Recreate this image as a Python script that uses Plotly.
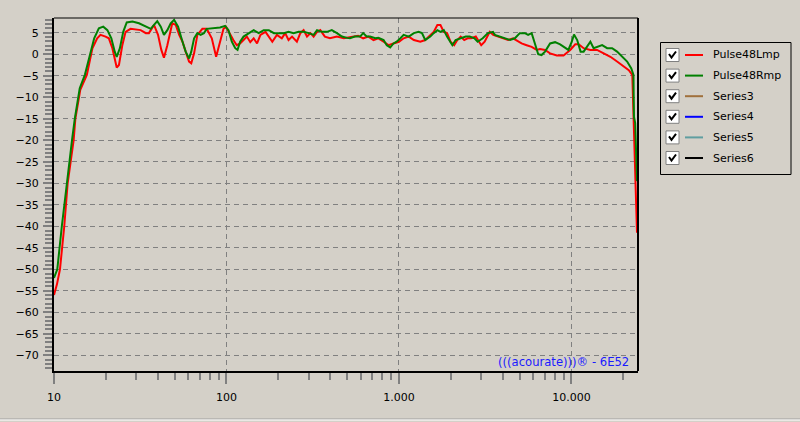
import plotly.graph_objects as go

# ---------------- data ----------------
freq_L = [10, 10.4, 10.83, 11.47, 12.0, 12.5, 13.0, 13.3, 13.9, 14.2, 15.5, 16.7, 17.8, 18.6, 19.9,
          20.8, 21.8, 23.1, 23.8, 24.9, 26.0, 27.8, 31.8, 34.1, 35.5, 38.0, 40.1, 41.9, 43.4, 45.4,
          48.5, 50.8, 53.2, 55.6, 58.0, 60.7, 62.5, 64.9, 67.8, 72.5, 76.8, 82.2, 87.1, 91.8, 96.1,
          99.4, 103.9, 109.6, 114.7, 120, 125.6, 131.3, 137.4, 143.8, 150.4, 157.4, 168.4, 176.2,
          184.4, 196, 209.3, 219, 229, 240, 256, 268, 280, 293, 307, 320, 335, 350, 372, 398, 437,
          479, 530, 580, 620, 665, 712, 760, 815, 870, 930, 1000, 1065, 1140, 1220, 1330, 1420,
          1520, 1590, 1670, 1740, 1820, 1900, 1990, 2090, 2180, 2280, 2390, 2500, 2620, 2790, 3000,
          3140, 3360, 3520, 3760, 4010, 4290, 4590, 4800, 5140, 5500, 5880, 6290, 6570, 7030, 7520,
          8230, 9000, 9840, 10530, 11010, 11770, 12880, 14080, 15390, 16830, 18390, 20110, 21510,
          22540, 22700, 22800, 23100, 23300, 23800, 24000]
db_L = [-56, -53.5, -50, -40, -30, -25, -20, -15, -10, -8.3, -4.8, 1.4, 3.7, 4.5, 4.1,
        3.7, 1.4, -3.1, -2.5, 2.1, 5.2, 5.9, 5.6, 4.9, 4.9, 6.8, 4.5, 1.0, -0.8, 2.1,
        7.2, 6.8, 4.5, 2.9, 0.6, -1.7, -2.1, 0.2, 4.5, 5.9, 5.9, 3.7, -0.6, 2.9, 5.9,
        6.4, 4.9, 3.3, 2.1, 2.5, 3.3, 4.1, 2.8, 3.7, 2.5, 4.5, 5.2, 4.1,
        2.9, 4.5, 3.7, 4.9, 3.3, 4.1, 2.9, 4.9, 5.6, 4.1, 4.9, 4.1, 5.2, 5.6, 4.1, 3.7, 4.1,
        3.7, 4.1, 4.3, 3.7, 4.1, 3.3, 3.7, 2.9, 2.1, 2.5, 2.9, 3.7, 4.1, 3.3, 2.9, 3.3,
        4.5, 5.2, 6.8, 6.8, 5.2, 4.9, 2.9, 2.1, 3.3, 4.1, 3.3, 3.7, 3.7, 4.1, 2.1,
        2.9, 5.2, 4.5, 4.1, 3.7, 3.3, 3.7, 3.3, 2.5, 2.1, 1.7, 1.0, 1.2, 1.0, 0.2,
        -0.3, -0.3, 1.0, 2.3, 2.3, 1.4, 1.0, 1.0, 0.2, -0.6, -1.7, -2.9, -3.7,
        -4.8, -9, -12.5, -15, -22, -35, -41.5]

freq_R = [10, 10.45, 11.1, 11.47, 11.85, 12.2, 12.72, 13.2, 13.8, 14.1, 15.1, 16.0, 17.1, 18.2, 19.3,
          20.4, 21.5, 22.5, 23.1, 24.1, 25.2, 26.4, 28.5, 31.1, 34.1, 36.4, 38.0, 39.7, 41.6, 43.4,
          45.4, 47.5, 49.7, 52.4, 55.6, 58.0, 60.7, 62.5, 64.9, 67.8, 70.8, 74.0, 76.8, 84.2, 91.8,
          98.2, 102.7, 107.4, 112.4, 115.9, 120, 125.6, 134.2, 143.8, 153.8, 164.3, 176, 188.4,
          201.3, 215, 229, 245, 262, 280, 300, 320, 335, 357, 382, 408, 437, 467, 500, 520, 555,
          595, 620, 650, 680, 730, 760, 815, 850, 890, 930, 970, 1020, 1065, 1140, 1220, 1300,
          1360, 1420, 1520, 1590, 1670, 1740, 1820, 1900, 2040, 2130, 2280, 2440, 2570, 2740, 2860,
          3060, 3280, 3510, 3600, 3850, 4120, 4410, 4700, 5020, 5370, 5610, 5880, 6140, 6420, 6710,
          7030, 7520, 8040, 8600, 9200, 9600, 10050, 10350, 10800, 11300, 11770, 12300, 12880,
          13450, 14080, 15070, 16110, 17220, 18390, 19680, 21040, 22240, 22900, 22950, 23050,
          23430, 23700, 24000]
db_R = [-52, -50, -40, -35, -30, -25, -20, -15, -10, -7.9, -4.8, -1.0, 3.7, 6.0, 6.4,
        5.6, 3.7, 0.6, -0.6, 1.4, 5.2, 7.4, 7.6, 7.2, 6.4, 5.9, 6.8, 7.7, 6.4, 4.5,
        5.6, 7.2, 8.0, 6.4, 2.9, 0.6, -1.0, 0.6, 3.7, 4.9, 4.5, 4.9, 5.9, 6.0, 6.2,
        6.6, 5.6, 2.9, 1.4, 1.0, 2.9, 4.1, 4.9, 5.6, 4.9, 5.6, 5.6, 4.9,
        4.9, 4.9, 5.2, 4.9, 5.2, 5.2, 4.9, 4.5, 5.6, 5.2, 5.2, 5.6, 4.9, 4.1, 3.8, 3.7, 4.1,
        4.1, 4.9, 4.1, 4.1, 3.7, 3.8, 3.3, 2.1, 1.6, 2.5, 2.9, 3.7, 4.5, 4.1, 4.9, 5.2,
        4.9, 3.3, 4.1, 4.9, 5.6, 5.2, 5.6, 4.1, 2.1, 3.3, 3.7, 4.1, 4.1, 3.7, 2.9,
        3.7, 4.9, 5.2, 4.5, 4.1, 3.8, 3.3, 3.7, 4.9, 4.9, 4.5, 4.9, 2.5, 0, -0.2,
        0.6, 2.5, 2.8, 2.3, 1.4, 1.0, 2.9, 4.6, 3.3, 0.6, 0.6, 1.7, 2.9,
        1.4, 1.7, 2.1, 1.4, 1.4, 0.6, -0.6, -1.7, -3.3, -4.8, -9, -14.6,
        -16, -24, -29.5]

series_names = ["Pulse48Lmp", "Pulse48Rmp", "Series3", "Series4", "Series5", "Series6"]
series_colors = ["#ff0000", "#008000", "#a0703c", "#0000ff", "#5f9ea0", "#000000"]

x_tickvals = [10, 100, 1000, 10000]
x_ticktext = ["10", "100", "1.000", "10.000"]
x_minor = [m * d for d in (10, 100, 1000) for m in range(2, 10)] + [20000]
y_tickvals = list(range(-70, 10, 5))

watermark = "(((acourate)))® - 6E52"

# ---------------- layout geometry ----------------
W, H = 800, 422
L, R, T, B = 54, 162, 18, 51
PW, PH = W - L - R, H - T - B
BG = "#d4d0c8"
FONT = "DejaVu Sans"


def px(x):
    return (x - L) / PW


def py(y):
    return (H - B - y) / PH


fig = go.Figure()
fig.add_trace(go.Scatter(x=freq_L, y=db_L, mode="lines", name=series_names[0],
                         line=dict(color=series_colors[0], width=2), showlegend=False))
fig.add_trace(go.Scatter(x=freq_R, y=db_R, mode="lines", name=series_names[1],
                         line=dict(color=series_colors[1], width=2), showlegend=False))

shapes = []
annotations = []

# frame top / right
shapes.append(dict(type="line", xref="paper", yref="paper", x0=0, x1=1, y0=1, y1=1,
                   line=dict(color="black", width=1)))
shapes.append(dict(type="line", xref="paper", yref="paper", x0=1, x1=1, y0=0, y1=1,
                   line=dict(color="black", width=2)))

# legend box
shapes.append(dict(type="rect", xref="paper", yref="paper", x0=px(660.5), x1=px(791),
                   y0=py(174.5), y1=py(42.5), line=dict(color="black", width=1)))
row0, dy = 55, 20.6
for i, (nm, col) in enumerate(zip(series_names, series_colors)):
    yc = row0 + i * dy
    shapes.append(dict(type="rect", xref="paper", yref="paper", x0=px(666), x1=px(679),
                       y0=py(yc + 6.5), y1=py(yc - 6.5), fillcolor="white",
                       line=dict(color="#808080", width=1)))
    path = "M {:.5f} {:.5f} L {:.5f} {:.5f} L {:.5f} {:.5f}".format(
        px(669), py(yc - 1), px(671.5), py(yc + 2.5), px(676), py(yc - 3.5))
    shapes.append(dict(type="path", xref="paper", yref="paper", path=path,
                       line=dict(color="black", width=2)))
    shapes.append(dict(type="line", xref="paper", yref="paper", x0=px(685), x1=px(703),
                       y0=py(yc), y1=py(yc), line=dict(color=col, width=2)))
    annotations.append(dict(text=nm, xref="paper", yref="paper", x=px(711), y=py(yc),
                            xanchor="left", yanchor="middle", showarrow=False,
                            font=dict(family=FONT, size=11, color="black")))

# watermark
annotations.append(dict(text=watermark, xref="paper", yref="paper", x=px(631), y=py(362),
                        xanchor="right", yanchor="middle", showarrow=False,
                        font=dict(family=FONT, size=11.6, color="#1a1aff")))

# bottom panel edge
shapes.append(dict(type="line", xref="paper", yref="paper", x0=px(0), x1=px(800),
                   y0=py(419), y1=py(419), line=dict(color="#a0a0a0", width=1)))
shapes.append(dict(type="line", xref="paper", yref="paper", x0=px(0), x1=px(800),
                   y0=py(420), y1=py(420), line=dict(color="#ffffff", width=1)))

fig.update_layout(
    width=W, height=H,
    margin=dict(l=L, r=R, t=T, b=B, pad=0),
    paper_bgcolor=BG, plot_bgcolor=BG,
    font=dict(family=FONT, size=11, color="black"),
    showlegend=False,
    shapes=shapes, annotations=annotations,
    xaxis=dict(type="log", range=[1, 4.386], tickmode="array",
               tickvals=x_tickvals, ticktext=x_ticktext,
               ticks="outside", ticklen=11, tickwidth=2, tickcolor="#808080",
               ticklabelstandoff=4,
               showline=True, linecolor="black", linewidth=2,
               showgrid=True, gridcolor="#808080", gridwidth=1, griddash="5px,4px",
               zeroline=False,
               minor=dict(tickmode="array", tickvals=x_minor, ticks="outside", ticklen=7,
                          tickwidth=2, tickcolor="#808080", showgrid=False),
               tickfont=dict(family=FONT, size=11, color="black")),
    yaxis=dict(range=[-73.65, 8.42], tickmode="array", tickvals=y_tickvals,
               ticks="outside", ticklen=9, tickwidth=2, tickcolor="#808080",
               ticklabelstandoff=2,
               showline=True, linecolor="black", linewidth=2,
               showgrid=True, gridcolor="#808080", gridwidth=1, griddash="5px,4px",
               zeroline=False,
               minor=dict(dtick=1, ticks="outside", ticklen=7, tickwidth=2,
                          tickcolor="#808080", showgrid=False),
               tickfont=dict(family=FONT, size=11, color="black")),
)

fig.write_html("out.html", config={"displayModeBar": False},
               post_script="document.body.style.margin='0';document.body.style.overflow='hidden';")
